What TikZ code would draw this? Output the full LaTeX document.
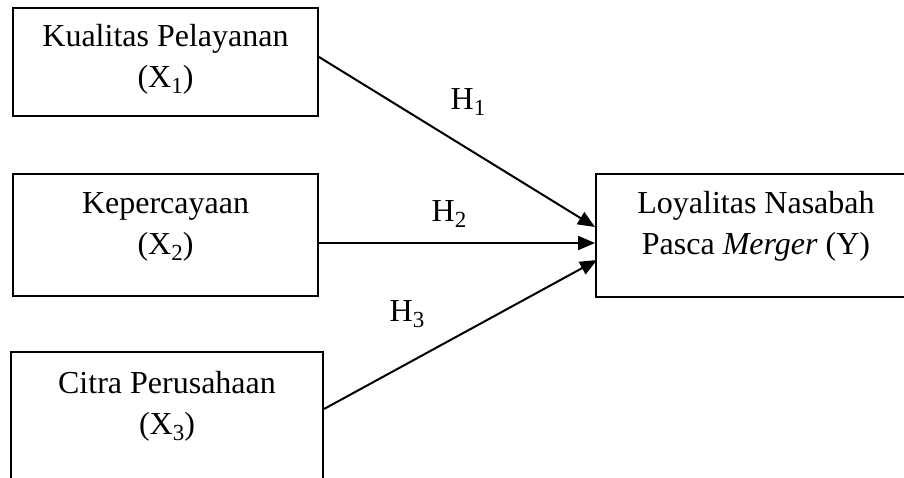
\documentclass[tikz,border=0pt]{standalone}
\usepackage{fontspec}
\setmainfont{Liberation Serif}
\usetikzlibrary{arrows.meta}
\newcommand\mysub[1]{\raisebox{-6pt}{\fontsize{23}{23}\selectfont #1}}
\begin{document}
\begin{tikzpicture}[x=1pt,y=-1pt,
  box/.style={draw,line width=2pt,rectangle,inner sep=0pt},
  txt/.style={align=center,inner sep=0pt,font=\fontsize{32}{41}\selectfont},
  lbl/.style={inner sep=0pt,font=\fontsize{32}{41}\selectfont},
  arr/.style={line width=2pt,-{Triangle[length=17pt,width=14pt]}}]
\useasboundingbox (0,0) rectangle (904,477);
\node[box,minimum width=305pt,minimum height=108pt] (b1) at (165.5,62) {};
\node[box,minimum width=305pt,minimum height=122pt] (b2) at (165.5,235) {};
\node[box,minimum width=312pt,minimum height=148pt] (b3) at (167,426) {};
\node[box,minimum width=324pt,minimum height=123pt] (bY) at (758,235.5) {};
\node[txt] (t1) at (165.5,59) {Kualitas Pelayanan\\(X\mysub{1})};
\node[txt] (t2) at (165.5,227) {Kepercayaan\\(X\mysub{2})};
\node[txt] (t3) at (167,406) {Citra Perusahaan\\(X\mysub{3})};
\node[txt] (tY) at (756,226) {Loyalitas Nasabah\\Pasca \textit{Merger} (Y)};
\node[lbl] (h1) at (468,102) {H\mysub{1}};
\node[lbl] (h2) at (449,214) {H\mysub{2}};
\node[lbl] (h3) at (407,314) {H\mysub{3}};
\draw[arr] ([yshift=5pt]b1.east) -- ([yshift=8.5pt]bY.west);
\draw[arr] ([yshift=-8pt]b2.east) -- ([yshift=-7.5pt]bY.west);
\draw[arr] ([yshift=17pt]b3.east) -- ([xshift=2pt,yshift=-24.5pt]bY.west);
\end{tikzpicture}
\end{document}
